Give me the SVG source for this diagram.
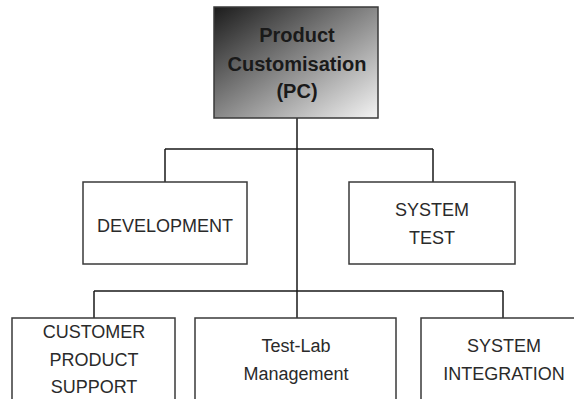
<svg xmlns="http://www.w3.org/2000/svg" width="574" height="399" viewBox="0 0 574 399">
<defs>
<linearGradient id="g" x1="0" y1="0" x2="1" y2="1">
<stop offset="0" stop-color="#1c1c1c"/>
<stop offset="1" stop-color="#f4f4f4"/>
</linearGradient>
</defs>
<style>
.box{fill:#fff;stroke:#3a3a3a;stroke-width:1.5}
.t{font-family:"Liberation Sans",Arial,sans-serif;font-size:18px;fill:#2a2a2a;text-anchor:middle}
.t.b{font-weight:bold;fill:#1a1a1a;font-size:20px}
.c{fill:none;stroke:#1a1a1a;stroke-width:1.5}
</style>
<rect width="574" height="399" fill="#fff"/>
<g id="connectors">
<path class="c" d="M297 118V399M165 149H433M165 149V182M433 149V182M94 291H503M94 291V318M503 291V318"/>
</g>
<g id="pc">
<rect x="214" y="7" width="164" height="111" fill="url(#g)" stroke="#3a3a3a" stroke-width="1.5"/>
<text class="t b" x="297" y="42">Product</text>
<text class="t b" x="297" y="71">Customisation</text>
<text class="t b" x="297" y="98">(PC)</text>
</g>
<g id="development">
<rect class="box" x="83" y="182" width="164" height="82"/>
<text class="t" x="165" y="232">DEVELOPMENT</text>
</g>
<g id="systemtest">
<rect class="box" x="349" y="182" width="166" height="82"/>
<text class="t" x="432" y="216">SYSTEM</text>
<text class="t" x="432" y="244">TEST</text>
</g>
<g id="cps">
<rect class="box" x="12" y="318" width="163" height="100"/>
<text class="t" x="94" y="338">CUSTOMER</text>
<text class="t" x="94" y="366">PRODUCT</text>
<text class="t" x="94" y="393">SUPPORT</text>
</g>
<g id="testlab">
<rect class="box" x="195" y="318" width="201" height="100"/>
<text class="t" x="296" y="352">Test-Lab</text>
<text class="t" x="296" y="380">Management</text>
</g>
<g id="integration">
<rect class="box" x="421" y="318" width="166" height="100"/>
<text class="t" x="504" y="352">SYSTEM</text>
<text class="t" x="504" y="380">INTEGRATION</text>
</g>
</svg>
